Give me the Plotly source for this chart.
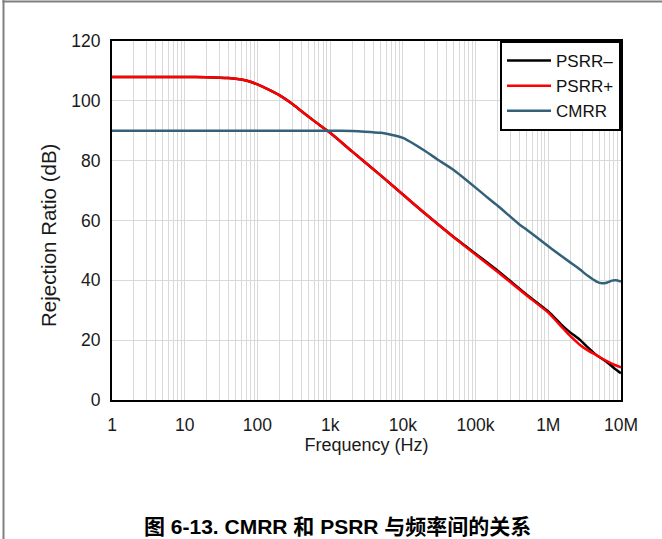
import plotly.graph_objects as go

# ---------------- data ----------------
psrr_plus_f = [1, 5, 10, 20, 40, 60, 80, 100, 150, 200, 300, 400, 600, 1000, 2000, 5000,
               10000, 20000, 50000, 100000, 200000, 500000, 1000000, 1600000, 2000000,
               2730000, 3500000, 4600000, 6300000, 8000000, 10000000]
psrr_plus_db = [108.0, 108.0, 108.0, 107.9, 107.6, 107.1, 106.4, 105.5, 103.5, 101.9, 99.0,
                96.6, 93.3, 89.3, 83.1, 75.0, 68.7, 62.4, 54.4, 48.6, 42.9, 35.0, 29.2,
                23.9, 21.4, 18.4, 16.6, 15.0, 13.1, 11.8, 10.9]

psrr_minus_f = [1, 5, 10, 20, 40, 60, 80, 100, 150, 200, 300, 400, 600, 1000, 2000, 5000,
                10000, 20000, 50000, 100000, 200000, 500000, 1000000, 1600000, 2000000,
                2730000, 3500000, 4600000, 6300000, 8000000, 10000000]
psrr_minus_db = [108.0, 108.0, 108.0, 107.9, 107.6, 107.1, 106.4, 105.5, 103.5, 101.9, 99.0,
                 96.6, 93.3, 89.3, 83.1, 75.0, 68.7, 62.4, 54.5, 48.9, 43.3, 35.3, 29.6,
                 24.6, 22.6, 20.1, 17.6, 15.0, 12.8, 10.7, 8.9]

cmrr_f = [1, 10, 100, 1000, 2000, 3000, 5000, 6000, 10000, 20000, 30000, 50000, 100000,
          142000, 200000, 409000, 500000, 1000000, 1170000, 2000000, 2730000, 3500000,
          4600000, 5500000, 6500000, 7500000, 8500000, 10000000]
cmrr_db = [90.0, 90.0, 90.0, 90.0, 89.9, 89.7, 89.3, 89.0, 87.6, 83.3, 80.4, 76.9, 71.0,
           67.9, 65.0, 58.5, 57.0, 51.4, 50.1, 46.0, 43.6, 41.5, 39.6, 39.0, 39.3, 39.9,
           40.0, 39.6]

x_tick_vals = [1, 10, 100, 1000, 10000, 100000, 1000000, 10000000]
x_tick_text = ["1", "10", "100", "1k", "10k", "100k", "1M", "10M"]
y_tick_vals = [0, 20, 40, 60, 80, 100, 120]

caption = "图 6-13. CMRR 和 PSRR 与频率间的关系"

# ---------------- figure ----------------
FONT = "Liberation Sans, Arial, Noto Sans CJK SC, sans-serif"

# grid positions (1..9 in every decade), labels only at decades
grid_vals = []
grid_text = []
for d in range(7):
    for m in range(1, 10):
        grid_vals.append(m * 10 ** d)
        grid_text.append(x_tick_text[d] if m == 1 else "")
grid_vals.append(10 ** 7)
grid_text.append(x_tick_text[7])

fig = go.Figure()
fig.add_trace(go.Scatter(x=psrr_minus_f, y=psrr_minus_db, mode="lines", name="PSRR–",
                         line=dict(color="#000000", width=2.5, shape="spline", smoothing=0.5)))
fig.add_trace(go.Scatter(x=psrr_plus_f, y=psrr_plus_db, mode="lines", name="PSRR+",
                         line=dict(color="#ff0000", width=2.5, shape="spline", smoothing=0.5)))
fig.add_trace(go.Scatter(x=cmrr_f, y=cmrr_db, mode="lines", name="CMRR",
                         line=dict(color="#33617a", width=2.5, shape="spline", smoothing=0.5)))

W, H = 662, 539
L, R, T, B = 112, 41, 41, 139
pw, ph = W - L - R, H - T - B

def px_x(p):
    return (p - L) / pw

def px_y(p):
    return (H - B - p) / ph

fig.update_layout(
    width=W, height=H,
    margin=dict(l=L, r=R, t=T, b=B, pad=0),
    paper_bgcolor="white", plot_bgcolor="white",
    font=dict(family=FONT, size=17.5, color="#1a1a1a"),
    showlegend=True,
    legend=dict(x=1, y=1, xanchor="right", yanchor="top", bgcolor="white",
                bordercolor="black", borderwidth=2, font=dict(size=17, color="#111"),
                tracegroupgap=0, itemwidth=44),
    xaxis=dict(type="log", range=[0, 7], tickvals=grid_vals, ticktext=grid_text,
               showgrid=True, gridcolor="#d9d9d9", gridwidth=1, ticks="",
               showline=True, linecolor="black", linewidth=2, mirror=True,
               zeroline=False, ticklabelstandoff=8,
               title=dict(text="Frequency (Hz)", standoff=2, font=dict(size=18))),
    yaxis=dict(range=[0, 120], tickvals=y_tick_vals, showgrid=True, gridcolor="#d9d9d9",
               gridwidth=1, ticks="", showline=True, linecolor="black", linewidth=2,
               mirror=True, zeroline=False, ticklabelstandoff=6),
    annotations=[
        dict(text="<b>" + caption + "</b>", xref="paper", yref="paper",
             x=px_x(337), y=px_y(526), xanchor="center", yanchor="middle",
             showarrow=False,
             font=dict(family="Liberation Sans, Noto Sans CJK SC", size=21, color="black")),
        dict(text="Rejection Ratio (dB)", xref="paper", yref="paper",
             x=px_x(48), y=px_y(236), xanchor="center", yanchor="middle",
             textangle=-90, showarrow=False,
             font=dict(family=FONT, size=20.5, color="#1a1a1a")),
    ],
    shapes=[
        dict(type="line", xref="paper", yref="paper", x0=px_x(3.5), x1=px_x(3.5),
             y0=px_y(0), y1=px_y(H), line=dict(color="#808080", width=2)),
        dict(type="line", xref="paper", yref="paper", x0=px_x(2.5), x1=px_x(W),
             y0=px_y(1.5), y1=px_y(1.5), line=dict(color="#808080", width=2)),
    ],
)

fig.write_html("out.html", config={"displayModeBar": False},
               post_script="document.body.style.margin='0';document.body.style.overflow='hidden';")
